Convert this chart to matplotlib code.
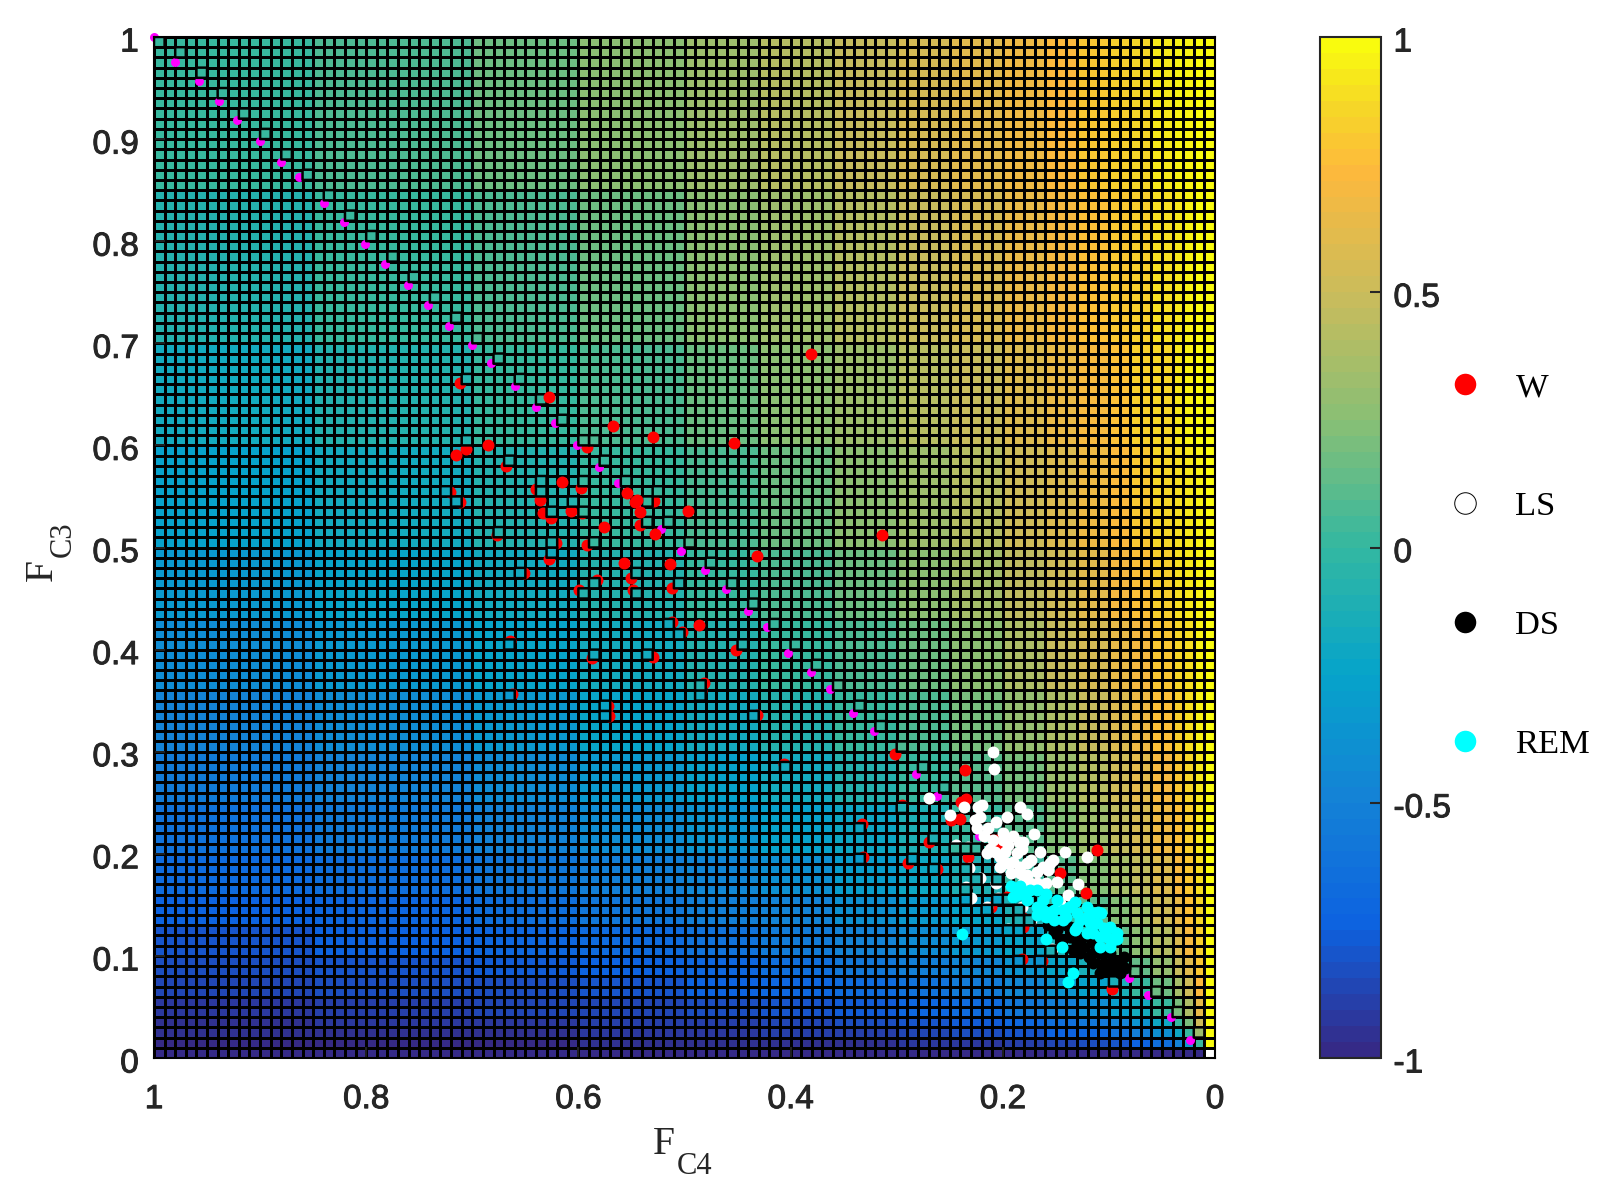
#!/usr/bin/env python3
"""Asymmetry map of F_C4 vs F_C3 with the sleep stage points on top."""

import numpy as np
import matplotlib
matplotlib.use('Agg')
import matplotlib.pyplot as plt
import matplotlib.patheffects as pe
from matplotlib.colors import LinearSegmentedColormap
from matplotlib.lines import Line2D
from matplotlib.transforms import ScaledTranslation

plt.rcParams['font.family'] = ['Liberation Sans', 'DejaVu Sans']
plt.rcParams['axes.unicode_minus'] = False

# block limits of the colour table, in grid cells (grid is 100 x 100)
BLOCK_EDGES = [0, 1, 2, 3, 4, 6, 8, 10, 13, 16, 20, 25, 30, 36, 43, 50, 60, 70, 85, 100]

MAP_VALUES = [
    [np.nan, -1, -1, -1, -1, -1, -1, -1, -1, -1, -1, -1, -1, -1, -1, -1, -1, -1, -1],
    [1, 0, -.33, -.50, -.64, -.73, -.79, -.83, -.87, -.89, -.91, -.93, -.94, -.95, -.96, -.96, -.97, -.97, -.98],
    [1, .33, 0, -.20, -.38, -.53, -.62, -.69, -.75, -.79, -.83, -.86, -.88, -.90, -.92, -.93, -.94, -.95, -.96],
    [1, .50, .20, 0, -.20, -.37, -.48, -.57, -.65, -.71, -.76, -.80, -.83, -.86, -.88, -.90, -.91, -.93, -.94],
    [1, .64, .38, .20, 0, -.18, -.31, -.42, -.51, -.59, -.66, -.71, -.76, -.79, -.82, -.85, -.87, -.89, -.91],
    [1, .73, .53, .37, .18, 0, -.13, -.26, -.37, -.46, -.54, -.61, -.67, -.71, -.75, -.79, -.82, -.84, -.87],
    [1, .79, .62, .48, .31, .13, 0, -.13, -.24, -.35, -.44, -.52, -.59, -.64, -.69, -.73, -.77, -.80, -.83],
    [1, .83, .69, .57, .42, .26, .13, 0, -.12, -.23, -.33, -.42, -.49, -.56, -.61, -.66, -.71, -.75, -.79],
    [1, .87, .75, .65, .51, .37, .24, .12, 0, -.11, -.22, -.32, -.40, -.47, -.53, -.59, -.64, -.69, -.74],
    [1, .89, .79, .71, .59, .46, .35, .23, .11, 0, -.11, -.21, -.30, -.38, -.45, -.51, -.57, -.63, -.68],
    [1, .91, .83, .76, .66, .54, .44, .33, .22, .11, 0, -.10, -.19, -.28, -.35, -.42, -.49, -.56, -.61],
    [1, .93, .86, .80, .71, .61, .52, .42, .32, .21, .10, 0, -.09, -.18, -.26, -.34, -.41, -.48, -.55],
    [1, .94, .88, .83, .76, .67, .59, .49, .40, .30, .19, .09, 0, -.09, -.17, -.25, -.33, -.41, -.48],
    [1, .95, .90, .86, .79, .71, .64, .56, .47, .38, .28, .18, .09, 0, -.08, -.17, -.25, -.33, -.41],
    [1, .96, .92, .88, .82, .75, .69, .61, .53, .45, .35, .26, .17, .08, 0, -.08, -.17, -.25, -.33],
    [1, .96, .93, .90, .85, .79, .73, .66, .59, .51, .42, .34, .25, .17, .08, 0, -.08, -.17, -.26],
    [1, .97, .94, .91, .87, .82, .77, .71, .64, .57, .49, .41, .33, .25, .17, .08, 0, -.09, -.18],
    [1, .97, .95, .93, .89, .84, .80, .75, .69, .63, .56, .48, .41, .33, .25, .17, .09, 0, -.09],
    [1, .98, .96, .94, .91, .87, .83, .79, .74, .68, .61, .55, .48, .41, .33, .26, .18, .09, 0],
]

# W points, complete ones
w_x = [.381, .628, .567, .530, .453, .685, .715, .497, .576, .528, .432, .554, .545, .547, .542,
       .615, .557, .514, .486, .3135, .236, .239, .235, .240, .249, .1115, .146, .122]
w_y = [.690, .647, .619, .608, .602, .600, .591, .536, .520, .513, .492, .553, .547, .545, .535,
       .564, .485, .484, .424, .5127, .282, .251, .254, .234, .233, .204, .181, .162]

# W points that show as a crescent beside a map cell
w_crescent_x = [.712, .706, .668, .640, .636, .598, .633, .626, .607, .597, .592, .529, .542, .677,
                .592, .628, .550, .5115, .451, .302, .270, .289, .209, .202, .2325, .097]
w_crescent_y = [.661, .596, .580, .557, .5465, .558, .5335, .5286, .536, .534, .598, .546, .522, .512,
                .5025, .489, .470, .460, .3996, .298, .212, .191, .218, .208, .197, .068]

# W points of which only a sliver shows
w_sliver_x = [.621, .651, .582, .599, .549, .512, .502, .664, .5875, .530, .482, .484, .6626, .572, .571,
              .432, .721, .712, .406, .333, .332, .295, .262, .181, .181, .182, .163, .211, .196]
w_sliver_y = [.504, .4747, .468, .458, .458, .427, .4175, .408, .3915, .3925, .3676, .359, .3565, .345, .335,
              .336, .554, .5446, .288, .229, .197, .248, .185, .137, .128, .097, .095, .148, .158]

# LS points
ls_x = [.209, .208, .270, .2365, .250, .223, .220, .226, .2246, .206, .2137, .196, .184, .177, .171,
        .1995, .185, .212, .195, .182, .203, .190, .1775, .165, .141, .121, .153, .184, .168, .157,
        .149, .129, .139, .159, .174, .146,
        .2215, .218, .209, .1995, .190, .181, .215, .207, .198, .187, .196, .184, .173, .192, .1775,
        .162, .181, .168, .203, .1555]
ls_y = [.300, .283, .255, .2455, .238, .246, .248, .233, .225, .2315, .225, .236, .2455, .2387, .219,
        .220, .212, .205, .209, .205, .197, .192, .191, .202, .202, .197, .194, .181, .182, .184,
        .172, .170, .160, .171, .171, .1515,
        .236, .217, .2135, .2135, .217, .212, .2005, .202, .202, .2005, .191, .187, .194, .181, .179,
        .187, .171, .171, .187, .191]

ls_sliver_x = [.235, .230, .215, .2045, .182, .195, .173, .154, .233, .244, .2215, .2315, .206]
ls_sliver_y = [.167, .157, .148, .157, .148, .126, .135, .107, .207, .209, .176, .186, .171]

# DS points
ds_x = [.149, .137, .124, .115, .105, .096, .0895, .102, .086, .085, .108, .115, .157, .130, .120, .140,
        .152, .1445, .1335, .124, .127, .115, .105, .096, .108, .099, .119, .137, .0895]
ds_y = [.125, .119, .109, .1025, .093, .096, .0894, .086, .099, .088, .1025, .1126, .130, .112, .120, .130,
        .122, .1156, .106, .119, .1025, .093, .1025, .086, .083, .1025, .099, .1286, .083]

# REM points
rem_x = [.238, .134, .139, .187, .1775, .168, .159, .184, .168, .159, .149, .138, .130, .121, .115,
         .107, .1115, .099, .0926, .099, .108, .121, .130, .143, .159, .1445, .152, .162,
         .192, .181, .190, .174, .162, .152, .168, .1555, .143, .132, .127, .118, .140, .132, .121,
         .105, .115, .0926, .102, .110, .096, .108]
rem_y = [.1215, .0835, .074, .160, .155, .148, .138, .168, .1645, .161, .155, .148, .142, .148, .142,
         .142, .132, .1286, .117, .109, .119, .122, .1286, .135, .117, .109, .135, .145,
         .168, .161, .158, .1645, .155, .145, .140, .143, .145, .153, .135, .132, .138, .125, .138,
         .127, .122, .122, .119, .143, .1156, .109]

# magenta points along the diagonal
diag_x = [1.0, .980, .958, .939, .9215, .900, .880, .863, .840, .821, .801, .782, .761, .742, .7215, .700,
          .682, .660, .640, .622, .601, .581, .563, .542, .522, .503, .481, .4605, .440, .4225, .402,
          .381, .363, .341, .321, .282, .262, .222, .143, .081, .063, .0415, .0236]
diag_y = [1.0, .976, .957, .937, .919, .898, .878, .863, .837, .819, .797, .778, .757, .738, .717, .698,
          .681, .658, .638, .622, .600, .579, .563, .541, .518, .497, .478, .459, .438, .4225, .397,
          .378, .361, .338, .320, .278, .257, .217, .137, .078, .062, .040, .0176]

x_ticks = [1, .8, .6, .4, .2, 0]
x_tick_labels = ['1', '0.8', '0.6', '0.4', '0.2', '0']
y_ticks = [0, .1, .2, .3, .4, .5, .6, .7, .8, .9, 1]
y_tick_labels = ['0', '0.1', '0.2', '0.3', '0.4', '0.5', '0.6', '0.7', '0.8', '0.9', '1']
cbar_ticks = [-1, -.5, 0, .5, 1]
cbar_tick_labels = ['-1', '-0.5', '0', '0.5', '1']
stage_names = ['W', 'LS', 'DS', 'REM']

PARULA = [(0.0, '#352a87'), (0.125, '#0d62e0'), (0.25, '#1482d6'), (0.375, '#06a4ca'),
          (0.5, '#33b8a1'), (0.625, '#88bf75'), (0.75, '#c9bc5c'), (0.875, '#fdb93c'),
          (0.94, '#f6d827'), (1.0, '#f9fb0e')]
TEXT_COLOR = '#262626'
SERIF = 'Liberation Serif'
GRID_LW = 1.8
DOT_SIZE = 74
DIAG_SIZE = 42

W, H = 1619, 1197


def fig_xy(px, py):
    return px / W, 1 - py / H


def style_tick_labels(fig, labels):
    """Thicken the labels a little and move them down by 2.5 px."""
    shift = ScaledTranslation(0, -2.5 / 100, fig.dpi_scale_trans)
    for lab in labels:
        lab.set_path_effects([pe.withStroke(linewidth=0.7, foreground=TEXT_COLOR)])
        lab.set_transform(lab.get_transform() + shift)


def main():
    cmap = LinearSegmentedColormap.from_list('parula_like', PARULA, N=64)

    fig = plt.figure(figsize=(W / 100, H / 100), dpi=100)
    ax = fig.add_axes([154 / W, 1 - 1058 / H, (1215 - 154) / W, (1058 - 37) / H])
    cax = fig.add_axes([1320 / W, 1 - 1058 / H, 61 / W, (1058 - 37) / H])

    # colour table spread over the 100 x 100 grid
    sizes = np.diff(BLOCK_EDGES)
    grid = np.repeat(np.repeat(np.array(MAP_VALUES), sizes, axis=0), sizes, axis=1)
    edges = np.arange(101) / 100

    mesh = ax.pcolormesh(edges, edges, grid, cmap=cmap, vmin=-1, vmax=1,
                         edgecolors='k', linewidth=GRID_LW, zorder=1)

    # covered points first, then the cells that cover them
    ax.scatter(w_crescent_x + w_sliver_x, w_crescent_y + w_sliver_y, s=DOT_SIZE, c='#ff0000',
               linewidths=0, zorder=2)
    ax.scatter(ls_sliver_x, ls_sliver_y, s=DOT_SIZE, c='white', linewidths=0, zorder=2)
    ax.scatter(diag_x, diag_y, s=DIAG_SIZE, c='#ff00ff', linewidths=0, zorder=2, clip_on=False)
    keep = np.zeros(grid.shape, dtype=bool)
    # crescents: the cell whose lower left corner is nearest
    for x, y in zip(w_crescent_x + diag_x, w_crescent_y + diag_y):
        i = min(max(int(round(x * 100)) - 1, 0), 99)
        j = min(int(round(y * 100)), 99)
        keep[j, i] = True
    # slivers: the cell the point falls in
    for x, y in zip(w_sliver_x + ls_sliver_x, w_sliver_y + ls_sliver_y):
        keep[int(y * 100), int(x * 100)] = True
    ax.pcolor(edges, edges, np.ma.masked_where(~keep, grid), cmap=cmap, vmin=-1, vmax=1,
              edgecolors='k', linewidth=GRID_LW, zorder=3)

    ax.scatter(w_x, w_y, s=DOT_SIZE, c='#ff0000', linewidths=0, zorder=4)
    ax.scatter(ls_x, ls_y, s=DOT_SIZE, c='white', linewidths=0, zorder=5)
    ax.scatter(ds_x, ds_y, s=DOT_SIZE, c='black', linewidths=0, zorder=6)
    ax.scatter(rem_x, rem_y, s=DOT_SIZE, c='#00ffff', linewidths=0, zorder=7)

    ax.set_xlim(1, 0)
    ax.set_ylim(0, 1)
    ax.set_xticks(x_ticks)
    ax.set_xticklabels(x_tick_labels)
    ax.set_yticks(y_ticks)
    ax.set_yticklabels(y_tick_labels)
    ax.tick_params(axis='x', direction='in', length=8, width=1.2, color=TEXT_COLOR, pad=17,
                   labelsize=24, labelcolor=TEXT_COLOR)
    ax.tick_params(axis='y', direction='in', length=8, width=1.2, color=TEXT_COLOR, pad=11,
                   labelsize=24, labelcolor=TEXT_COLOR)
    style_tick_labels(fig, ax.get_xticklabels() + ax.get_yticklabels())
    for spine in ax.spines.values():
        spine.set_linewidth(1.5)
        spine.set_color('k')

    # axis names, subscripts as separate texts to get the deep drop of the original
    fig.text(*fig_xy(664, 1145), 'F', family=SERIF, fontsize=28.5, color=TEXT_COLOR, ha='center', va='center')
    fig.text(*fig_xy(695, 1167), 'C4', family=SERIF, fontsize=22, color=TEXT_COLOR, ha='center', va='center')
    fig.text(*fig_xy(42, 570), 'F', family=SERIF, fontsize=28.5, color=TEXT_COLOR, ha='center', va='center',
             rotation=90)
    fig.text(*fig_xy(63.5, 539), 'C3', family=SERIF, fontsize=22, color=TEXT_COLOR, ha='center', va='center',
             rotation=90)

    # colorbar
    cbar = fig.colorbar(mesh, cax=cax)
    cbar.set_ticks(cbar_ticks)
    cbar.set_ticklabels(cbar_tick_labels)
    cbar.ax.tick_params(direction='in', length=8, width=1.5, color=TEXT_COLOR, pad=9,
                        labelsize=24, labelcolor=TEXT_COLOR)
    style_tick_labels(fig, cbar.ax.get_yticklabels())
    cbar.outline.set_linewidth(1.5)
    cbar.outline.set_edgecolor(TEXT_COLOR)

    # stage key
    handles = [
        Line2D([], [], linestyle='none', marker='o', markersize=15.5, markerfacecolor='#ff0000', markeredgewidth=0),
        Line2D([], [], linestyle='none', marker='o', markersize=15.5, markerfacecolor='white',
               markeredgecolor='k', markeredgewidth=0.7),
        Line2D([], [], linestyle='none', marker='o', markersize=15.5, markerfacecolor='k', markeredgewidth=0),
        Line2D([], [], linestyle='none', marker='o', markersize=15.5, markerfacecolor='#00ffff', markeredgewidth=0),
    ]
    fig.legend(handles, stage_names, loc='center left', bbox_to_anchor=(1431 / W, 1 - 566 / H),
               frameon=False, labelspacing=2.55, handletextpad=0.45, borderpad=0, borderaxespad=0,
               prop={'family': SERIF, 'size': 24.8}, labelcolor='k')

    fig.savefig('out.png', dpi=100)
    plt.close(fig)


if __name__ == '__main__':
    main()
